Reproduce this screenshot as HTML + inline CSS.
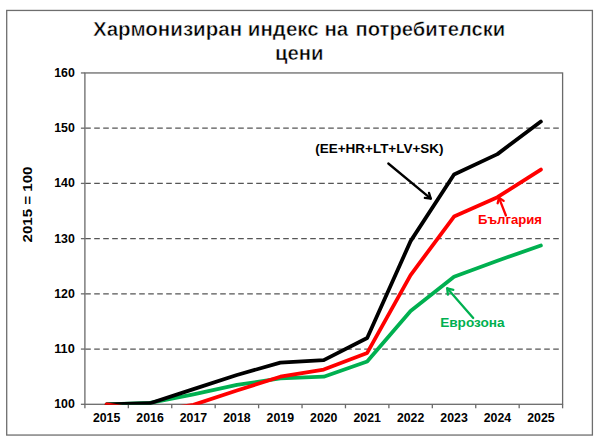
<!DOCTYPE html>
<html><head><meta charset="utf-8"><style>
html,body{margin:0;padding:0;background:#fff;width:600px;height:443px;overflow:hidden}
svg{display:block}
</style></head><body>
<svg width="600" height="443" viewBox="0 0 600 443">
<rect x="6.7" y="10.45" width="585.7" height="424.6" fill="#fff" stroke="#6e6e6e" stroke-width="1.3"/>
<line x1="84.90" y1="349.07" x2="562.60" y2="349.07" stroke="#555" stroke-width="1.2" stroke-dasharray="5.6,3.4" stroke-dashoffset="-0.3"/>
<line x1="84.90" y1="293.85" x2="562.60" y2="293.85" stroke="#555" stroke-width="1.2" stroke-dasharray="5.6,3.4" stroke-dashoffset="-0.3"/>
<line x1="84.90" y1="238.62" x2="562.60" y2="238.62" stroke="#555" stroke-width="1.2" stroke-dasharray="5.6,3.4" stroke-dashoffset="-0.3"/>
<line x1="84.90" y1="183.40" x2="562.60" y2="183.40" stroke="#555" stroke-width="1.2" stroke-dasharray="5.6,3.4" stroke-dashoffset="-0.3"/>
<line x1="84.90" y1="128.18" x2="562.60" y2="128.18" stroke="#555" stroke-width="1.2" stroke-dasharray="5.6,3.4" stroke-dashoffset="-0.3"/>
<line x1="80.9" y1="404.30" x2="84.90" y2="404.30" stroke="#6a6a6a" stroke-width="1.3"/>
<line x1="80.9" y1="349.07" x2="84.90" y2="349.07" stroke="#6a6a6a" stroke-width="1.3"/>
<line x1="80.9" y1="293.85" x2="84.90" y2="293.85" stroke="#6a6a6a" stroke-width="1.3"/>
<line x1="80.9" y1="238.62" x2="84.90" y2="238.62" stroke="#6a6a6a" stroke-width="1.3"/>
<line x1="80.9" y1="183.40" x2="84.90" y2="183.40" stroke="#6a6a6a" stroke-width="1.3"/>
<line x1="80.9" y1="128.18" x2="84.90" y2="128.18" stroke="#6a6a6a" stroke-width="1.3"/>
<line x1="80.9" y1="72.95" x2="84.90" y2="72.95" stroke="#6a6a6a" stroke-width="1.3"/>
<line x1="84.90" y1="404.30" x2="84.90" y2="408.30" stroke="#6a6a6a" stroke-width="1.3"/>
<line x1="128.33" y1="404.30" x2="128.33" y2="408.30" stroke="#6a6a6a" stroke-width="1.3"/>
<line x1="171.75" y1="404.30" x2="171.75" y2="408.30" stroke="#6a6a6a" stroke-width="1.3"/>
<line x1="215.18" y1="404.30" x2="215.18" y2="408.30" stroke="#6a6a6a" stroke-width="1.3"/>
<line x1="258.61" y1="404.30" x2="258.61" y2="408.30" stroke="#6a6a6a" stroke-width="1.3"/>
<line x1="302.04" y1="404.30" x2="302.04" y2="408.30" stroke="#6a6a6a" stroke-width="1.3"/>
<line x1="345.46" y1="404.30" x2="345.46" y2="408.30" stroke="#6a6a6a" stroke-width="1.3"/>
<line x1="388.89" y1="404.30" x2="388.89" y2="408.30" stroke="#6a6a6a" stroke-width="1.3"/>
<line x1="432.32" y1="404.30" x2="432.32" y2="408.30" stroke="#6a6a6a" stroke-width="1.3"/>
<line x1="475.75" y1="404.30" x2="475.75" y2="408.30" stroke="#6a6a6a" stroke-width="1.3"/>
<line x1="519.17" y1="404.30" x2="519.17" y2="408.30" stroke="#6a6a6a" stroke-width="1.3"/>
<line x1="562.60" y1="404.30" x2="562.60" y2="408.30" stroke="#6a6a6a" stroke-width="1.3"/>
<rect x="84.90" y="72.95" width="477.70" height="331.35" fill="none" stroke="#6a6a6a" stroke-width="1.3"/>
<defs><clipPath id="c"><rect x="84.90" y="67.95" width="477.70" height="336.75"/></clipPath></defs>
<g clip-path="url(#c)" fill="none" stroke-width="3.8" stroke-linejoin="round" stroke-linecap="round">
<polyline points="106.61,404.30 150.04,402.92 193.47,394.36 236.90,384.97 280.32,378.34 323.75,376.69 367.18,361.50 410.60,310.97 454.03,276.73 497.46,260.72 540.89,245.53" stroke="#00B050"/>
<polyline points="106.61,404.30 150.04,403.20 193.47,389.11 236.90,375.03 280.32,362.61 323.75,360.12 367.18,338.03 410.60,241.11 454.03,174.56 497.46,154.13 540.89,121.55" stroke="#000"/>
<polyline points="106.61,404.30 150.04,411.48 193.47,404.85 236.90,390.49 280.32,376.69 323.75,369.51 367.18,352.94 410.60,275.07 454.03,216.53 497.46,197.21 540.89,169.59" stroke="#FF0000"/>
</g>
<text x="74.8" y="408.20" text-anchor="end" font-size="13" textLength="20.6" lengthAdjust="spacingAndGlyphs" style="font-family:'Liberation Sans',sans-serif;font-weight:bold" fill="#000">100</text>
<text x="74.8" y="352.97" text-anchor="end" font-size="13" textLength="20.6" lengthAdjust="spacingAndGlyphs" style="font-family:'Liberation Sans',sans-serif;font-weight:bold" fill="#000">110</text>
<text x="74.8" y="297.75" text-anchor="end" font-size="13" textLength="20.6" lengthAdjust="spacingAndGlyphs" style="font-family:'Liberation Sans',sans-serif;font-weight:bold" fill="#000">120</text>
<text x="74.8" y="242.53" text-anchor="end" font-size="13" textLength="20.6" lengthAdjust="spacingAndGlyphs" style="font-family:'Liberation Sans',sans-serif;font-weight:bold" fill="#000">130</text>
<text x="74.8" y="187.30" text-anchor="end" font-size="13" textLength="20.6" lengthAdjust="spacingAndGlyphs" style="font-family:'Liberation Sans',sans-serif;font-weight:bold" fill="#000">140</text>
<text x="74.8" y="132.08" text-anchor="end" font-size="13" textLength="20.6" lengthAdjust="spacingAndGlyphs" style="font-family:'Liberation Sans',sans-serif;font-weight:bold" fill="#000">150</text>
<text x="74.8" y="76.85" text-anchor="end" font-size="13" textLength="20.6" lengthAdjust="spacingAndGlyphs" style="font-family:'Liberation Sans',sans-serif;font-weight:bold" fill="#000">160</text>
<text x="106.61" y="422.1" text-anchor="middle" font-size="13" textLength="27.4" lengthAdjust="spacingAndGlyphs" style="font-family:'Liberation Sans',sans-serif;font-weight:bold" fill="#000">2015</text>
<text x="150.04" y="422.1" text-anchor="middle" font-size="13" textLength="27.4" lengthAdjust="spacingAndGlyphs" style="font-family:'Liberation Sans',sans-serif;font-weight:bold" fill="#000">2016</text>
<text x="193.47" y="422.1" text-anchor="middle" font-size="13" textLength="27.4" lengthAdjust="spacingAndGlyphs" style="font-family:'Liberation Sans',sans-serif;font-weight:bold" fill="#000">2017</text>
<text x="236.90" y="422.1" text-anchor="middle" font-size="13" textLength="27.4" lengthAdjust="spacingAndGlyphs" style="font-family:'Liberation Sans',sans-serif;font-weight:bold" fill="#000">2018</text>
<text x="280.32" y="422.1" text-anchor="middle" font-size="13" textLength="27.4" lengthAdjust="spacingAndGlyphs" style="font-family:'Liberation Sans',sans-serif;font-weight:bold" fill="#000">2019</text>
<text x="323.75" y="422.1" text-anchor="middle" font-size="13" textLength="27.4" lengthAdjust="spacingAndGlyphs" style="font-family:'Liberation Sans',sans-serif;font-weight:bold" fill="#000">2020</text>
<text x="367.18" y="422.1" text-anchor="middle" font-size="13" textLength="27.4" lengthAdjust="spacingAndGlyphs" style="font-family:'Liberation Sans',sans-serif;font-weight:bold" fill="#000">2021</text>
<text x="410.60" y="422.1" text-anchor="middle" font-size="13" textLength="27.4" lengthAdjust="spacingAndGlyphs" style="font-family:'Liberation Sans',sans-serif;font-weight:bold" fill="#000">2022</text>
<text x="454.03" y="422.1" text-anchor="middle" font-size="13" textLength="27.4" lengthAdjust="spacingAndGlyphs" style="font-family:'Liberation Sans',sans-serif;font-weight:bold" fill="#000">2023</text>
<text x="497.46" y="422.1" text-anchor="middle" font-size="13" textLength="27.4" lengthAdjust="spacingAndGlyphs" style="font-family:'Liberation Sans',sans-serif;font-weight:bold" fill="#000">2024</text>
<text x="540.89" y="422.1" text-anchor="middle" font-size="13" textLength="27.4" lengthAdjust="spacingAndGlyphs" style="font-family:'Liberation Sans',sans-serif;font-weight:bold" fill="#000">2025</text>
<text transform="translate(32.3,204.5) rotate(-90)" text-anchor="middle" font-size="13" style="font-family:'Liberation Sans',sans-serif;font-weight:bold" fill="#000" textLength="76" lengthAdjust="spacingAndGlyphs">2015 = 100</text>
<text x="93.0" y="35.6" font-size="20.4" textLength="255.3" lengthAdjust="spacingAndGlyphs" style="font-family:'Liberation Sans',sans-serif;font-weight:bold" fill="#000" stroke="#fff" stroke-width="0.5">Хармонизиран индекс на</text>
<text x="355.5" y="35.6" font-size="20.4" textLength="149.8" lengthAdjust="spacingAndGlyphs" style="font-family:'Liberation Sans',sans-serif;font-weight:bold" fill="#000" stroke="#fff" stroke-width="0.5">потребителски</text>
<text x="299.3" y="60.2" text-anchor="middle" font-size="20.4" textLength="48.6" lengthAdjust="spacingAndGlyphs" style="font-family:'Liberation Sans',sans-serif;font-weight:bold" fill="#000" stroke="#fff" stroke-width="0.5">цени</text>
<text x="379.4" y="152.8" text-anchor="middle" font-size="13" style="font-family:'Liberation Sans',sans-serif;font-weight:bold" fill="#000" textLength="128.3" lengthAdjust="spacingAndGlyphs">(EE+HR+LT+LV+SK)</text>
<line x1="388.30" y1="163.50" x2="430.80" y2="198.60" stroke="#000" stroke-width="2.3" stroke-linecap="round"/><polyline points="424.84,197.92 430.80,198.60 429.00,192.88" fill="none" stroke="#000" stroke-width="2.3" stroke-linejoin="round" stroke-linecap="round"/>
<text x="510" y="223.8" text-anchor="middle" font-size="13" style="font-family:'Liberation Sans',sans-serif;font-weight:bold" fill="#FF0000" textLength="64" lengthAdjust="spacingAndGlyphs">България</text>
<line x1="505.90" y1="215.50" x2="499.00" y2="197.80" stroke="#FF0000" stroke-width="2.3" stroke-linecap="round"/><polyline points="503.66,200.91 499.00,197.80 497.67,203.24" fill="none" stroke="#FF0000" stroke-width="2.3" stroke-linejoin="round" stroke-linecap="round"/>
<text x="472.4" y="327.2" text-anchor="middle" font-size="13" style="font-family:'Liberation Sans',sans-serif;font-weight:bold" fill="#00B050" textLength="64.5" lengthAdjust="spacingAndGlyphs">Еврозона</text>
<line x1="473.20" y1="318.00" x2="447.20" y2="288.30" stroke="#00B050" stroke-width="2.3" stroke-linecap="round"/><polyline points="453.32,289.80 447.20,288.30 447.88,294.56" fill="none" stroke="#00B050" stroke-width="2.3" stroke-linejoin="round" stroke-linecap="round"/>
</svg>
</body></html>
